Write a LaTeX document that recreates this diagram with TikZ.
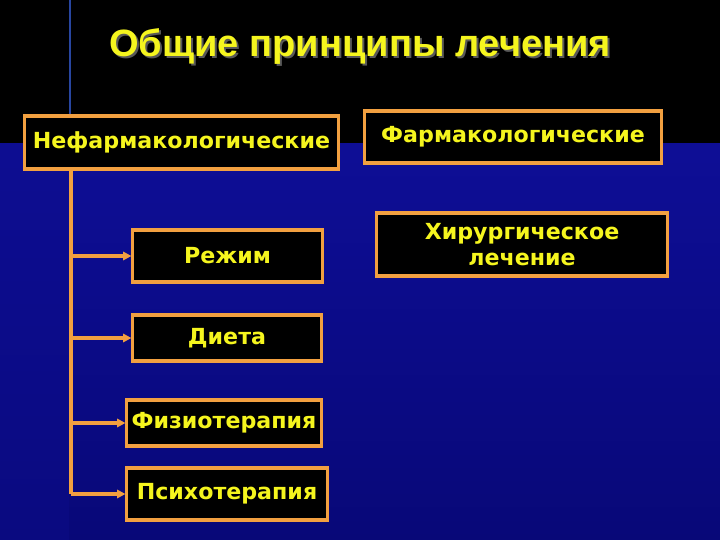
\documentclass[tikz,border=0pt]{standalone}
\usepackage{fontspec}
\setmainfont{Liberation Sans}
\newfontfamily\boxfont{DejaVu Sans}
\usetikzlibrary{arrows.meta}
\definecolor{boxorange}{RGB}{242,160,64}
\definecolor{txtyellow}{RGB}{245,245,30}
\definecolor{bgblue}{RGB}{14,14,150}
\definecolor{bgbluedark}{RGB}{8,8,120}
\definecolor{stripblue}{RGB}{10,10,128}
\definecolor{rulerblue}{RGB}{40,70,160}
\tikzset{
  box/.style={draw=boxorange, line width=2.2pt, fill=black, text=txtyellow,
    font=\boxfont\bfseries\fontsize{16}{19}\selectfont, align=center, inner sep=0pt},
  boxsize/.style 2 args={minimum width={#1*0.7227pt}, minimum height={#2*0.7227pt}},
  link/.style={draw=boxorange, line width=2.2pt},
  >={Triangle[length=6pt,width=6pt]}
}
\begin{document}
\begin{tikzpicture}[x=0.01in, y=-0.01in]
    % background
    \useasboundingbox (0,0) rectangle (720,540);
    \fill [top color=bgblue, bottom color=bgbluedark] (0,143) rectangle (720,540);
    \fill [top color=bgblue!80!stripblue, bottom color=stripblue] (0,143) rectangle (69,540);
    \fill [black] (0,0) rectangle (720,143);
    \draw [rulerblue, line width=1pt] (70,0)--(70,143);
    % title
    \node [text=black!65, font=\bfseries\fontsize{27.5}{30}\selectfont] (titleshadow) at (362,48) {Общие принципы лечения};
    \node [text=txtyellow, font=\bfseries\fontsize{27.5}{30}\selectfont] (title) at (360,46) {Общие принципы лечения};
    % boxes
    \node [box, boxsize={313}{53}] (nonpharm) at (181.5,142.5) {Нефармакологические};
    \node [box, boxsize={296}{52}] (pharm) at (513,137) {Фармакологические};
    \node [box, boxsize={290}{63}] (surgery) at (522,244.5) {Хирургическое\\лечение};
    \node [box, boxsize={189}{52}] (regime) at (227.5,256) {Режим};
    \node [box, boxsize={188}{46}] (diet) at (227,338) {Диета};
    \node [box, boxsize={194}{46}] (physio) at (224,423) {Физиотерапия};
    \node [box, boxsize={200}{52}] (psycho) at (227,494) {Психотерапия};
    % connectors
    \coordinate (trunk) at (71,0);
    \draw [link] (trunk |- nonpharm.south)--(trunk |- psycho.west);
    \draw [link, ->] (trunk |- regime.west)--(regime.west);
    \draw [link, ->] (trunk |- diet.west)--(diet.west);
    \draw [link, ->] (trunk |- physio.west)--(physio.west);
    \draw [link, ->] (trunk |- psycho.west)--(psycho.west);
\end{tikzpicture}
\end{document}
